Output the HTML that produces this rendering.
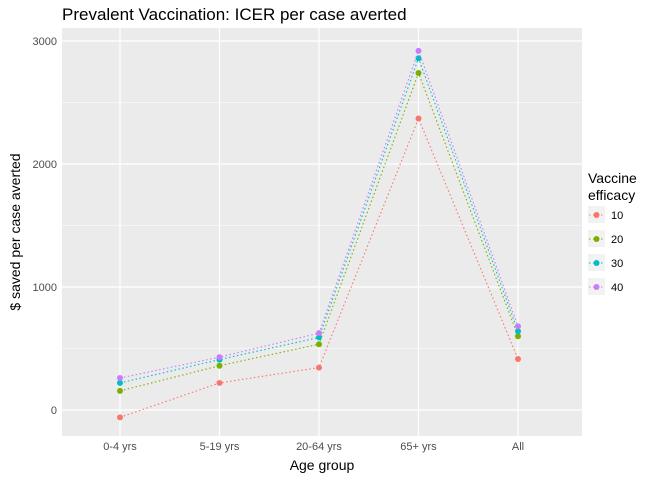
<!DOCTYPE html>
<html><head><meta charset="utf-8"><style>body{margin:0;background:#fff}svg{font-family:"Liberation Sans",sans-serif}</style></head>
<body>
<svg id="c" width="672" height="480"></svg>
<script>
const categories=["0-4 yrs","5-19 yrs","20-64 yrs","65+ yrs","All"];
const seriesNames=["10","20","30","40"];
const s10=[-60,220,345,2370,415];
const s20=[155,360,535,2740,600];
const s30=[220,410,590,2860,640];
const s40=[260,430,625,2920,680];
const yTicks=[0,1000,2000,3000];
const colors=["#F8766D","#7CAE00","#00BFC4","#C77CFF"];
const allSeries=[s10,s20,s30,s40];
const NS="http://www.w3.org/2000/svg",svg=document.getElementById("c");
const L=62,R=582,T=28,B=436;
const y=v=>410-v*0.123;
const x=i=>120+i*99.5;
function mk(t,a,txt){const e=document.createElementNS(NS,t);for(const k in a)e.setAttribute(k,a[k]);if(txt!=null)e.textContent=txt;svg.appendChild(e);return e;}
let e=mk("rect",{x:L,y:T,width:R-L,height:B-T,fill:"#EBEBEB"});

for(let i=0;i<yTicks.length;i++){const m=yTicks[i]+500;if(y(m)>T)mk("line",{x1:L,x2:R,y1:y(m),y2:y(m),stroke:"#fff","stroke-width":0.6});}
mk("line",{x1:L,x2:R,y1:y(-500)>B?0:0,y2:0,stroke:"none"});
yTicks.forEach(t=>{
e=mk("line",{x1:L,x2:R,y1:y(t),y2:y(t),stroke:"#fff","stroke-width":1.2});

e=mk("text",{x:L-5,y:y(t)+4,"text-anchor":"end","font-size":11,fill:"#4D4D4D"},t);

});
categories.forEach((c,i)=>{
mk("line",{x1:x(i),x2:x(i),y1:T,y2:B,stroke:"#fff","stroke-width":1.2});
e=mk("text",{x:x(i),y:B+14,"text-anchor":"middle","font-size":11,fill:"#4D4D4D"},c);

});
allSeries.forEach((s,k)=>{
e=mk("polyline",{points:s.map((v,i)=>x(i)+","+y(v)).join(" "),fill:"none",stroke:colors[k],"stroke-width":1.1,"stroke-dasharray":"1.5,2.5"});

s.forEach((v,i)=>{e=mk("circle",{cx:x(i),cy:y(v),r:3,fill:colors[k]});
});
});
e=mk("text",{x:62,y:20,"font-size":17,fill:"#000"},"Prevalent Vaccination: ICER per case averted");

e=mk("text",{x:(L+R)/2,y:470,"text-anchor":"middle","font-size":14,fill:"#000"},"Age group");

e=mk("text",{x:0,y:0,"text-anchor":"middle","font-size":14,fill:"#000",transform:"translate(20,232) rotate(-90)"},"$ saved per case averted");

e=mk("text",{x:588,y:183,"font-size":14,fill:"#000"},"Vaccine");

mk("text",{x:588,y:200,"font-size":14,fill:"#000"},"efficacy");
seriesNames.forEach((n,k)=>{
const cy=215+k*24;
e=mk("rect",{x:588,y:cy-9,width:17,height:17,fill:"#F2F2F2"});

mk("line",{x1:589,x2:604,y1:cy,y2:cy,stroke:colors[k],"stroke-dasharray":"1.5,2.5"});
mk("circle",{cx:596.5,cy:cy,r:3,fill:colors[k]});
mk("text",{x:611,y:cy+4,"font-size":11,fill:"#000"},n);
});
</script>
</body></html>
